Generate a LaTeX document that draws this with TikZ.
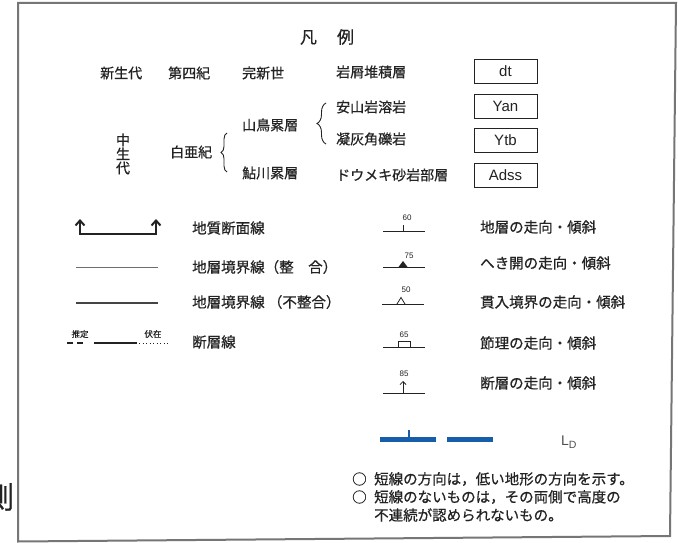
\documentclass[tikz,border=0pt]{standalone}
\usepackage{fontspec}
\setmainfont{Liberation Sans}
\newfontfamily\jp{Noto Sans CJK JP}[FakeBold=0.6]
\usetikzlibrary{arrows.meta,decorations.pathreplacing}
\definecolor{frame}{RGB}{118,118,118}
\definecolor{ink}{RGB}{35,35,35}
\definecolor{ldblue}{RGB}{22,94,170}
\definecolor{thingray}{RGB}{110,110,110}
\begin{document}
\begin{tikzpicture}[x=1pt,y=-1pt,
  lbl/.style={anchor=west,inner sep=0,text=ink,font=\jp\fontsize{14}{14}\selectfont},
  lblb/.style={anchor=west,inner sep=0,text=ink,font=\jp\fontsize{14.5}{14.5}\selectfont},
  unitbox/.style={draw=ink,line width=0.9,minimum width=63,minimum height=24,inner sep=0,text=ink,font=\fontsize{15}{15}\selectfont},
  small/.style={inner sep=0,text=ink,font=\fontsize{8}{8}\selectfont},
  smalljp/.style={inner sep=0,text=ink,font=\jp\fontsize{8.5}{8.5}\selectfont},
  sym/.style={draw=ink,line width=0.9},
  curly/.style={draw=ink,line width=0.9,decorate,decoration={brace,amplitude=6}}]
\useasboundingbox (0,0) rectangle (678,543);
\fill[white] (0,0) rectangle (678,543);
% clipped glyph at the left edge
\node[inner sep=0,text=ink,font=\jp\fontsize{30}{30}\selectfont] (edge) at (-1,497) {測};
% frame
\draw[frame,line width=2] (18,3) -- (676,3) -- (670,536) -- (18,541.5) -- cycle;
% title
\node[inner sep=0,text=ink,font=\jp\fontsize{17}{17}\selectfont] (title) at (327,37) {凡\hspace{20pt}例};
% rows
\node[lbl] (shinsei) at (100,73) {新生代};
\node[lbl] (daiyon) at (168,73) {第四紀};
\node[lbl] (kanshin) at (242,73) {完新世};
\node[lbl] (gansetsu) at (336,72) {岩屑堆積層};
\node[unitbox] (dt) at (505.5,71) {dt};
\node[lbl] (anzan) at (336,107) {安山岩溶岩};
\node[unitbox] (yan) at (505.5,106) {Yan};
\node[lbl] (gyokai) at (336,139) {凝灰角礫岩};
\node[unitbox] (ytb) at (505.5,140.5) {Ytb};
\node[lbl] (domeki) at (336,175) {ドウメキ砂岩部層};
\node[unitbox] (adss) at (505.5,175) {Adss};
\node[lbl] (yamadori) at (242,125) {山鳥累層};
\node[lbl] (ayukawa) at (242,173) {鮎川累層};
\node[lbl] (hakua) at (170,152) {白亜紀};
\node[inner sep=0,text=ink,align=center,font=\jp\fontsize{14}{14}\selectfont] (chusei) at (123,154) {中\\生\\代};
\coordinate (b1s) at (227,172);
\coordinate (b1e) at (227,133);
\draw[curly] (b1s) -- (b1e);
\coordinate (b2s) at (326,144);
\coordinate (b2e) at (326,103);
\draw[curly,decoration={amplitude=9}] (b2s) -- (b2e);
% cross-section line
\coordinate (cs1) at (80,219);
\coordinate (cs2) at (80,234);
\coordinate (cs3) at (156,234);
\coordinate (cs4) at (156,219);
\draw[ink,line width=2,{Straight Barb[length=5,width=9]}-{Straight Barb[length=5,width=9]}] (cs1) -- (cs2) -- (cs3) -- (cs4);
\node[lblb] (t1) at (192,228) {地質断面線};
% boundaries
\coordinate (g1) at (76,267); \coordinate (g2) at (158,267);
\draw[thingray,line width=1] (g1) -- (g2);
\node[lblb] (t2) at (192,267) {地層境界線（整　合）};
\coordinate (u1) at (76,303); \coordinate (u2) at (158,303);
\draw[ink!85,line width=1.4] (u1) -- (u2);
\node[lblb] (t3) at (192,302) {地層境界線 （不整合）};
% fault line
\coordinate (f1) at (67,343); \coordinate (f2) at (73,343);
\coordinate (f3) at (77,343); \coordinate (f4) at (83,343);
\coordinate (f5) at (94,342.5); \coordinate (f6) at (137,342.5);
\coordinate (f7) at (139,343); \coordinate (f8) at (168,343);
\draw[ink,line width=2] (f1) -- (f2) (f3) -- (f4);
\draw[ink,line width=2] (f5) -- (f6);
\draw[ink,line width=0.8,dash pattern=on 1 off 2.5] (f7) -- (f8);
\node[smalljp] (suitei) at (80,334) {推定};
\node[smalljp] (fukuzai) at (153,334) {伏在};
\node[lblb] (t4) at (192,342) {断層線};
% strike and dip symbols
\coordinate (s1a) at (383,231); \coordinate (s1b) at (425,231);
\draw[sym] (s1a) -- (s1b);
\coordinate (s1c) at (403,231); \coordinate (s1d) at (403,225);
\draw[sym] (s1c) -- (s1d);
\node[small] (n60) at (407,218) {60};
\node[lblb] (r1) at (480,227) {地層の走向・傾斜};
\coordinate (s2a) at (383,267); \coordinate (s2b) at (425,267);
\draw[sym] (s2a) -- (s2b);
\fill[ink] (398.5,267) -- (403,261) -- (407.5,267) -- cycle;
\node[small] (n75) at (409,256) {75};
\node[lblb] (r2) at (480,263) {へき開の走向・傾斜};
\coordinate (s3a) at (382,304); \coordinate (s3b) at (424,304);
\draw[sym] (s3a) -- (s3b);
\draw[ink,line width=0.8] (397,304) -- (401,297.5) -- (405,304);
\node[small] (n50) at (406,290) {50};
\node[lblb] (r3) at (480,302) {貫入境界の走向・傾斜};
\coordinate (s4a) at (383,347); \coordinate (s4b) at (425,347);
\draw[sym] (s4a) -- (s4b);
\draw[ink,line width=0.8] (398,347) -- (398,341.5) -- (410,341.5) -- (410,347);
\node[small] (n65) at (404,335) {65};
\node[lblb] (r4) at (480,343) {節理の走向・傾斜};
\coordinate (s5a) at (383,393); \coordinate (s5b) at (425,393);
\draw[sym] (s5a) -- (s5b);
\coordinate (s5c) at (403,393); \coordinate (s5d) at (403,381);
\draw[ink,line width=0.8,-{Straight Barb[length=3,width=6]}] (s5c) -- (s5d);
\node[small] (n85) at (404,374) {85};
\node[lblb] (r5) at (480,383) {断層の走向・傾斜};
% LD symbol
\coordinate (l1) at (380,439.5); \coordinate (l2) at (436,439.5);
\coordinate (l3) at (409,439.5); \coordinate (l4) at (409,430);
\coordinate (l5) at (447,439.5); \coordinate (l6) at (493,439.5);
\draw[ldblue,line width=5] (l1) -- (l2);
\draw[ldblue,line width=2.5] (l3) -- (l4);
\draw[ldblue,line width=5] (l5) -- (l6);
\node[anchor=west,inner sep=0,text=ink!80,font=\fontsize{14}{14}\selectfont] (ld) at (561,442) {L\raisebox{-3pt}{\fontsize{10.5}{10.5}\selectfont D}};
% notes
\node[lblb] (o1) at (352,479) {○};
\node[lblb] (m1) at (374,479) {短線の方向は，低い地形の方向を示す。};
\node[lblb] (o2) at (352,497) {○};
\node[lblb] (m2) at (374,497) {短線のないものは，その両側で高度の};
\node[lblb] (m3) at (374,515) {不連続が認められないもの。};
\end{tikzpicture}
\end{document}
